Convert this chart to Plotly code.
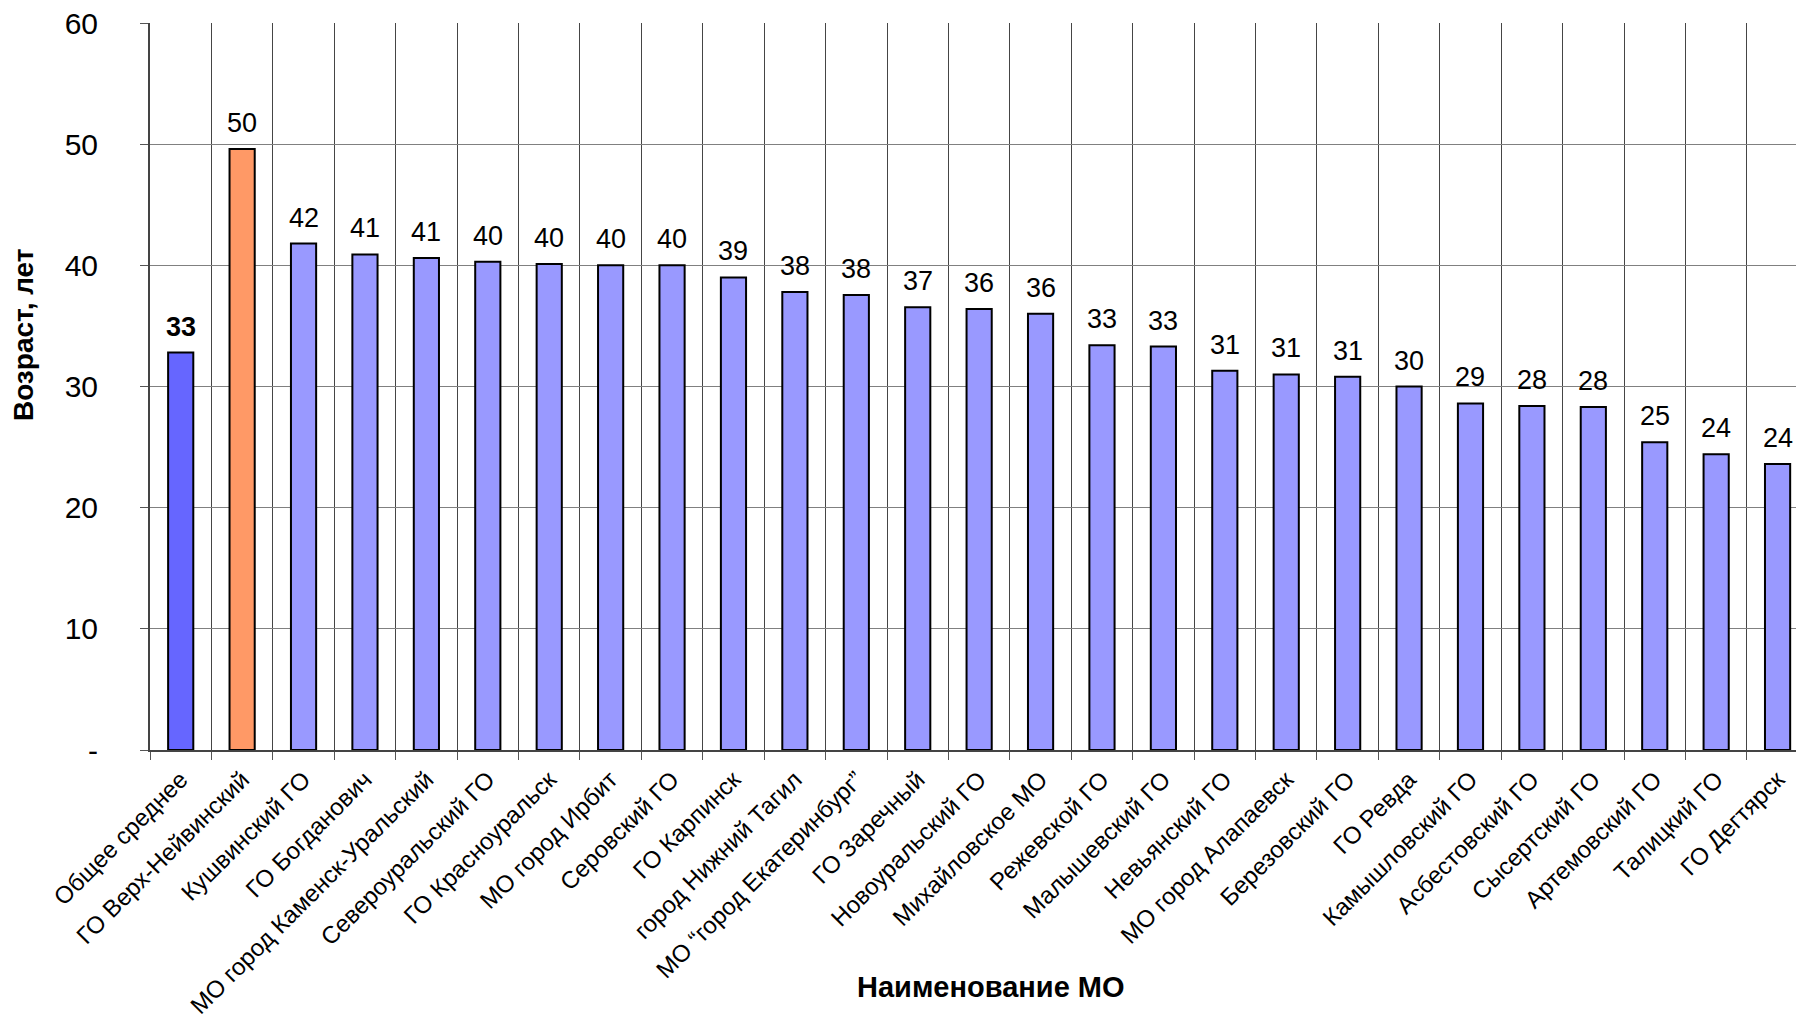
import plotly.graph_objects as go

# Municipalities (МО) and average age, years
categories = [
    "Общее среднее", "ГО Верх-Нейвинский", "Кушвинский ГО", "ГО Богданович",
    "МО город Каменск-Уральский", "Североуральский ГО", "ГО Красноуральск",
    "МО город Ирбит", "Серовский ГО", "ГО Карпинск", "город Нижний Тагил",
    "МО “город Екатеринбург”", "ГО Заречный", "Новоуральский ГО",
    "Михайловское МО", "Режевской ГО", "Малышевский ГО", "Невьянский ГО",
    "МО город Алапаевск", "Березовский ГО", "ГО Ревда", "Камышловский ГО",
    "Асбестовский ГО", "Сысертский ГО", "Артемовский ГО", "Талицкий ГО",
    "ГО Дегтярск",
]
ages = [
    32.8, 49.6, 41.8, 40.9, 40.6, 40.3, 40.1, 40.0, 40.0, 39.0, 37.8,
    37.55, 36.55, 36.4, 36.0, 33.4, 33.3, 31.3, 31.0, 30.8, 30.0, 28.6,
    28.4, 28.3, 25.4, 24.4, 23.6,
]
y_ticks = [0, 10, 20, 30, 40, 50, 60]
y_tick_text = ["-", "10", "20", "30", "40", "50", "60"]

AVG_COLOR = "#6666FF"
TOP_COLOR = "#FF9966"
BAR_COLOR = "#9999FF"
colors = [AVG_COLOR, TOP_COLOR] + [BAR_COLOR] * (len(categories) - 2)

FONT = "Arial, 'Liberation Sans', sans-serif"

fig = go.Figure(
    go.Bar(
        x=categories,
        y=ages,
        width=0.41,
        marker=dict(color=colors, line=dict(color="black", width=2)),
        hoverinfo="x+y",
    )
)

# Value labels above the bars (the overall average is bold)
for i, (c, v) in enumerate(zip(categories, ages)):
    label = f"{v:.0f}"
    if i == 0:
        label = f"<b>{label}</b>"
    fig.add_annotation(
        x=c, y=v, xref="x", yref="y",
        text=label, showarrow=False,
        yanchor="bottom", yshift=9,
        font=dict(family=FONT, size=27, color="black"),
    )

# Axis titles
fig.add_annotation(
    x=0.511, y=-0.326, xref="paper", yref="paper",
    text="<b>Наименование МО</b>", showarrow=False,
    xanchor="center", yanchor="middle",
    font=dict(family=FONT, size=29, color="black"),
)
fig.add_annotation(
    x=-0.0772, y=0.572, xref="paper", yref="paper",
    text="<b>Возраст, лет</b>", showarrow=False, textangle=-90,
    xanchor="center", yanchor="middle",
    font=dict(family=FONT, size=28, color="black"),
)

fig.update_layout(
    width=1796,
    height=1021,
    margin=dict(l=150, r=0, t=23, b=271),
    paper_bgcolor="white",
    plot_bgcolor="white",
    showlegend=False,
    font=dict(family=FONT, color="black"),
    bargap=0.59,
)

fig.update_xaxes(
    type="category",
    range=[-0.5, 26.3],
    tickson="boundaries",
    ticks="outside",
    ticklen=8,
    tickcolor="#555555",
    tickangle=-45,
    ticklabelstandoff=4,
    tickfont=dict(family=FONT, size=24, color="black"),
    showgrid=True,
    gridcolor="#454545",
    gridwidth=1,
    showline=True,
    linecolor="#444444",
    linewidth=2,
)

fig.update_yaxes(
    range=[0, 60],
    tickvals=y_ticks,
    ticktext=y_tick_text,
    ticks="outside",
    ticklen=8,
    tickcolor="#555555",
    ticklabelstandoff=36,
    tickfont=dict(family=FONT, size=30, color="black"),
    showgrid=True,
    gridcolor="#808080",
    gridwidth=1,
    showline=True,
    linecolor="#444444",
    linewidth=2,
    zeroline=False,
)

fig.write_html("out.html")
